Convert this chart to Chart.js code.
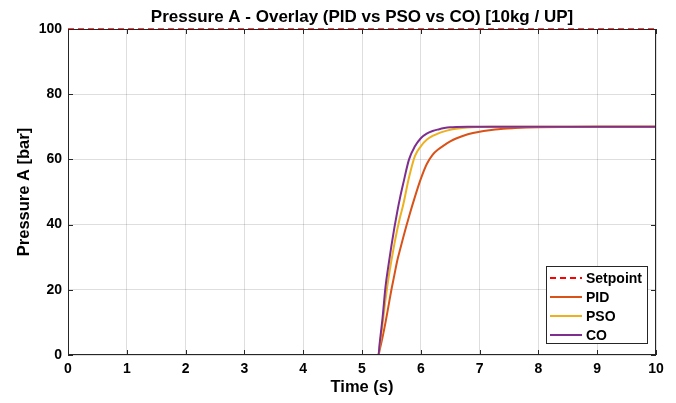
<!DOCTYPE html>
<html>
<head>
<meta charset="utf-8">
<script src="https://cdn.jsdelivr.net/npm/chart.js@4.4.1/dist/chart.umd.min.js"></script>
<style>
  html, body { margin: 0; padding: 0; background: #fff; }
  #wrap { width: 676px; height: 403px; }
</style>
</head>
<body>
<div id="wrap"><canvas id="pressureChart" width="676" height="403"></canvas></div>
<script>
// Time base (s) shared by the three controller responses
const timeS = [0, 5.28, 5.3, 5.35, 5.4, 5.45, 5.5, 5.55, 5.6, 5.65, 5.7, 5.8, 5.9, 6.0, 6.1, 6.2, 6.3, 6.4, 6.5, 6.6, 6.8, 7.0, 7.2, 7.4, 7.6, 7.8, 8.0, 8.5, 9.0, 10];

// Pressure A [bar]
const pidVals = [0, 0, 1.5, 5.5, 10, 15, 20, 24.5, 29, 32.5, 36, 42.5, 48.5, 54, 58.5, 61.4, 63.1, 64.4, 65.5, 66.4, 67.7, 68.5, 69.0, 69.4, 69.6, 69.75, 69.85, 69.95, 70, 70];
const psoVals = [0, 0, 2.5, 9.5, 17, 23.5, 29, 34, 38.5, 42.5, 46, 54.5, 61, 64, 66, 67.2, 68.0, 68.6, 69.1, 69.4, 69.8, 69.95, 70, 70, 70, 70, 70, 70, 70, 70];
const coVals  = [0, 0, 3.5, 11.5, 21, 27.5, 33.5, 39, 44, 48.5, 52.5, 60, 64, 66.5, 67.9, 68.7, 69.2, 69.6, 69.85, 69.95, 70, 70, 70, 70, 70, 70, 70, 70, 70, 70];

// Setpoint line
const setpointTime = [0, 10];
const setpointVals = [100, 100];

// Axis ticks
const xTicks = [0, 1, 2, 3, 4, 5, 6, 7, 8, 9, 10];
const yTicks = [0, 20, 40, 60, 80, 100];

const FONT = '"Liberation Sans", Arial, Helvetica, sans-serif';
const INK = '#262626';

function toPoints(xs, ys) {
  return xs.map((x, i) => ({ x: x, y: ys[i] }));
}

// frame, inward ticks, title and legend drawn MATLAB-style
const matlabLook = {
  id: 'matlabLook',
  afterDraw(chart) {
    const { ctx, chartArea: a, scales: { x, y } } = chart;
    ctx.save();

    // box
    ctx.strokeStyle = INK;
    ctx.lineWidth = 1;
    ctx.strokeRect(a.left + 0.5, a.top + 0.5, a.right - a.left - 1, a.bottom - a.top - 1);

    // inward tick marks on all 4 sides
    const tl = 5;
    ctx.beginPath();
    xTicks.forEach(v => {
      const px = Math.round(x.getPixelForValue(v)) + 0.5;
      ctx.moveTo(px, a.bottom); ctx.lineTo(px, a.bottom - tl);
      ctx.moveTo(px, a.top); ctx.lineTo(px, a.top + tl);
    });
    yTicks.forEach(v => {
      const py = Math.round(y.getPixelForValue(v)) + 0.5;
      ctx.moveTo(a.left, py); ctx.lineTo(a.left + tl, py);
      ctx.moveTo(a.right, py); ctx.lineTo(a.right - tl, py);
    });
    ctx.stroke();

    // title centred over the axes
    ctx.fillStyle = '#000';
    ctx.font = 'bold 17px ' + FONT;
    ctx.textAlign = 'center';
    ctx.textBaseline = 'middle';
    ctx.fillText('Pressure A - Overlay (PID vs PSO vs CO) [10kg / UP]', (a.left + a.right) / 2, 17);

    // legend (south-east, inside)
    const lx = 546, ly = 266, lw = 102, lh = 78;
    ctx.fillStyle = '#fff';
    ctx.fillRect(lx, ly, lw, lh);
    ctx.strokeStyle = INK;
    ctx.strokeRect(lx + 0.5, ly + 0.5, lw - 1, lh - 1);
    ctx.font = 'bold 14px ' + FONT;
    ctx.textAlign = 'left';
    chart.data.datasets.forEach((ds, i) => {
      const cy = ly + 12 + i * 19;
      ctx.strokeStyle = ds.borderColor;
      ctx.lineWidth = 2;
      ctx.setLineDash(ds.borderDash || []);
      ctx.beginPath();
      ctx.moveTo(lx + 4, cy); ctx.lineTo(lx + 36, cy);
      ctx.stroke();
      ctx.setLineDash([]);
      ctx.fillStyle = '#000';
      ctx.fillText(ds.label, lx + 40, cy + 1);
    });

    ctx.restore();
  }
};

const ctx = document.getElementById('pressureChart').getContext('2d');
const chart = new Chart(ctx, {
  type: 'line',
  data: {
    datasets: [
      { label: 'Setpoint', data: toPoints(setpointTime, setpointVals), borderColor: '#FF0000', borderWidth: 1.5, borderDash: [6, 4], order: 3, clip: false },
      { label: 'PID', data: toPoints(timeS, pidVals), borderColor: '#D95319', borderWidth: 2, order: 2 },
      { label: 'PSO', data: toPoints(timeS, psoVals), borderColor: '#EDB120', borderWidth: 2, order: 1 },
      { label: 'CO',  data: toPoints(timeS, coVals),  borderColor: '#7E2F8E', borderWidth: 2, order: 0 }
    ]
  },
  options: {
    responsive: false,
    animation: false,
    devicePixelRatio: 1,
    layout: { padding: { left: 0, right: 20, top: 29, bottom: 0 } },
    elements: { point: { radius: 0 }, line: { cubicInterpolationMode: 'monotone' } },
    plugins: {
      legend: { display: false },
      tooltip: { enabled: false },
      title: { display: false }
    },
    scales: {
      x: {
        type: 'linear', min: 0, max: 10,
        afterFit: s => { s.height = 48; },
        afterBuildTicks: s => { s.ticks = xTicks.map(v => ({ value: v })); },
        grid: { color: 'rgba(0,0,0,0.13)', drawTicks: false },
        border: { display: false },
        ticks: { color: '#000', padding: 6, font: { family: FONT, size: 14, weight: 'bold' } },
        title: { display: true, text: 'Time (s)', color: '#000', padding: { top: 0, bottom: 6 }, font: { family: FONT, size: 16.5, weight: 'bold' } }
      },
      y: {
        type: 'linear', min: 0, max: 100,
        afterFit: s => { s.width = 68; },
        afterBuildTicks: s => { s.ticks = yTicks.map(v => ({ value: v })); },
        grid: { color: 'rgba(0,0,0,0.13)', drawTicks: false },
        border: { display: false },
        ticks: { color: '#000', padding: 6, font: { family: FONT, size: 14, weight: 'bold' } },
        title: { display: true, text: 'Pressure A [bar]', color: '#000', padding: { top: 15, bottom: 0 }, font: { family: FONT, size: 16.5, weight: 'bold' } }
      }
    }
  },
  plugins: [matlabLook]
});
</script>
</body>
</html>
